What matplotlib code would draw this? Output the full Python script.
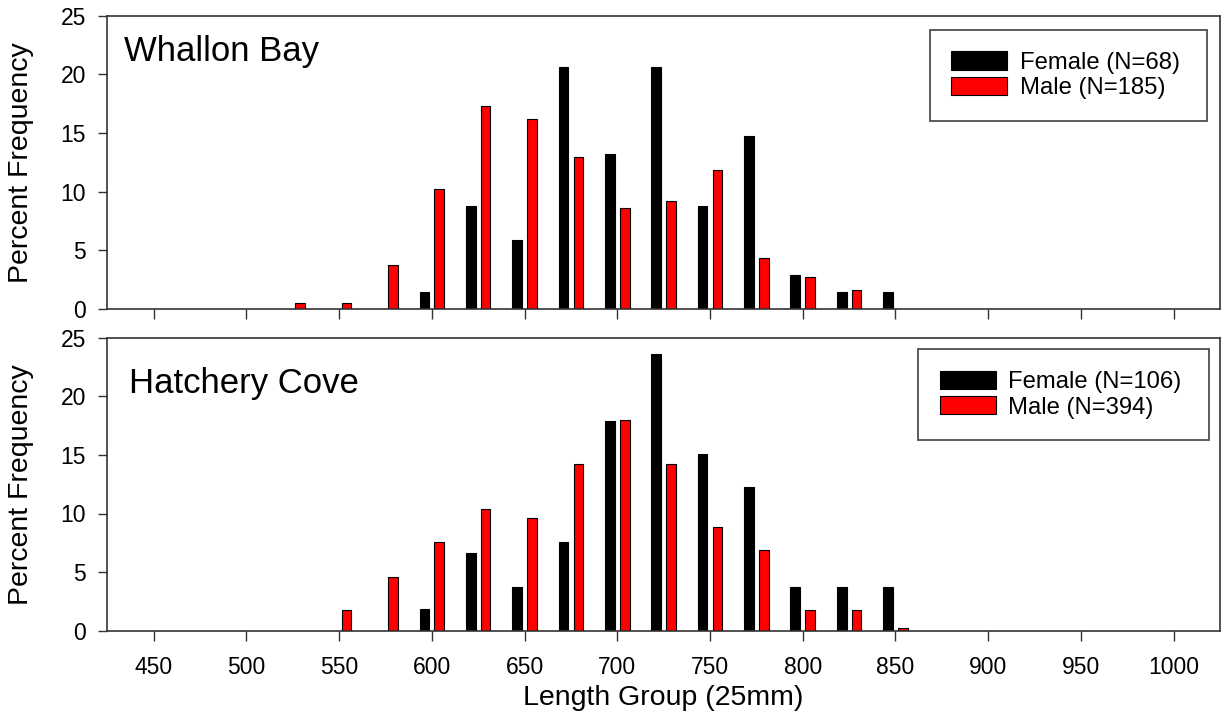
import matplotlib
matplotlib.use("Agg")
import matplotlib.pyplot as plt
import numpy as np

plt.rcParams['font.family'] = ['Liberation Sans', 'DejaVu Sans']

# Length groups (25 mm)
lengths = [525, 550, 575, 600, 625, 650, 675, 700, 725, 750, 775, 800, 825, 850]

# Whallon Bay percent frequency
wb_female = [0, 0, 0, 1.47, 8.82, 5.88, 20.59, 13.24, 20.59, 8.82, 14.71, 2.94, 1.47, 1.47]
wb_male = [0.54, 0.54, 3.78, 10.27, 17.30, 16.22, 12.97, 8.65, 9.19, 11.89, 4.32, 2.70, 1.62, 0]

# Hatchery Cove percent frequency
hc_female = [0, 0, 0, 1.89, 6.60, 3.77, 7.55, 17.92, 23.58, 15.09, 12.26, 3.77, 3.77, 3.77]
hc_male = [0, 1.78, 4.57, 7.61, 10.41, 9.64, 14.21, 18.02, 14.21, 8.88, 6.85, 1.78, 1.78, 0.25]

panels = [
    ("Whallon Bay", wb_female, wb_male, "Female (N=68)", "Male (N=185)"),
    ("Hatchery Cove", hc_female, hc_male, "Female (N=106)", "Male (N=394)"),
]
xticks = [450, 500, 550, 600, 650, 700, 750, 800, 850, 900, 950, 1000]
yticks = [0, 5, 10, 15, 20, 25]

W, H = 1228, 719
fig = plt.figure(figsize=(W / 100, H / 100), dpi=100)

ax_boxes = [
    (107.3, 15.7, 1220, 309.0),
    (107.3, 337.7, 1220, 630.7),
]
legend_boxes = [
    (929.7, 30.0, 1207.3),
    (918.3, 349.3, 1209.3),
]
label_pos = [(124, 35), (129.3, 366.7)]

spine_col = '#333333'
lab_size = 16.5
leg_size = 17.2

for i, (name, fem, mal, flab, mlab) in enumerate(panels):
    x0, y0, x1, y1 = ax_boxes[i]
    ax = fig.add_axes([x0 / W, 1 - y1 / H, (x1 - x0) / W, (y1 - y0) / H])
    L = np.array(lengths, dtype=float)
    f = np.array(fem)
    m = np.array(mal)
    fm = f > 0
    mm = m > 0
    ax.bar(L[fm] - 4, f[fm], width=5.2, color='black', edgecolor='black', linewidth=0.8, label=flab)
    ax.bar(L[mm] + 4, m[mm], width=5.2, color='#FF0000', edgecolor='black', linewidth=0.8, label=mlab)
    ax.set_xlim(425, 1025)
    ax.set_ylim(0, 25)
    ax.set_xticks(xticks)
    ax.set_yticks(yticks)
    ax.tick_params(axis='both', direction='out', width=1.0, colors=spine_col,
                   labelcolor='black', labelsize=lab_size)
    ax.tick_params(axis='x', length=7.5, pad=10.5)
    ax.tick_params(axis='y', length=6.5, pad=9)
    for s in ax.spines.values():
        s.set_color(spine_col)
        s.set_linewidth(1.2)
    if i == 0:
        ax.tick_params(axis='x', labelbottom=False)
    else:
        ax.set_xlabel("Length Group (25mm)", fontsize=20.5)
        ax.xaxis.set_label_coords(0.5, -0.184)
    ax.set_ylabel("Percent Frequency", fontsize=20.5)
    ax.yaxis.set_label_coords((34 - x0) / (x1 - x0), 0.5)

    # panel title
    tx, ty = label_pos[i]
    ax.text((tx - x0) / (x1 - x0), (y1 - ty) / (y1 - y0), name, transform=ax.transAxes,
            fontsize=25, ha='left', va='top')

    lx0, ly0, lx1 = legend_boxes[i]
    bx = (lx0 - x0) / (x1 - x0)
    bw = (lx1 - lx0) / (x1 - x0)
    by = (y1 - ly0) / (y1 - y0)
    leg = ax.legend(loc='upper left', bbox_to_anchor=(bx, 0.0, bw, by), mode='expand',
                    borderaxespad=0, fontsize=leg_size, frameon=True, fancybox=False,
                    handlelength=2.35, handleheight=0.8, handletextpad=0.52,
                    labelspacing=0.12, borderpad=0.9, edgecolor='black')
    leg.get_frame().set_linewidth(1.3)
    leg.get_frame().set_edgecolor('#222222')

fig.savefig("out.png", dpi=100)
